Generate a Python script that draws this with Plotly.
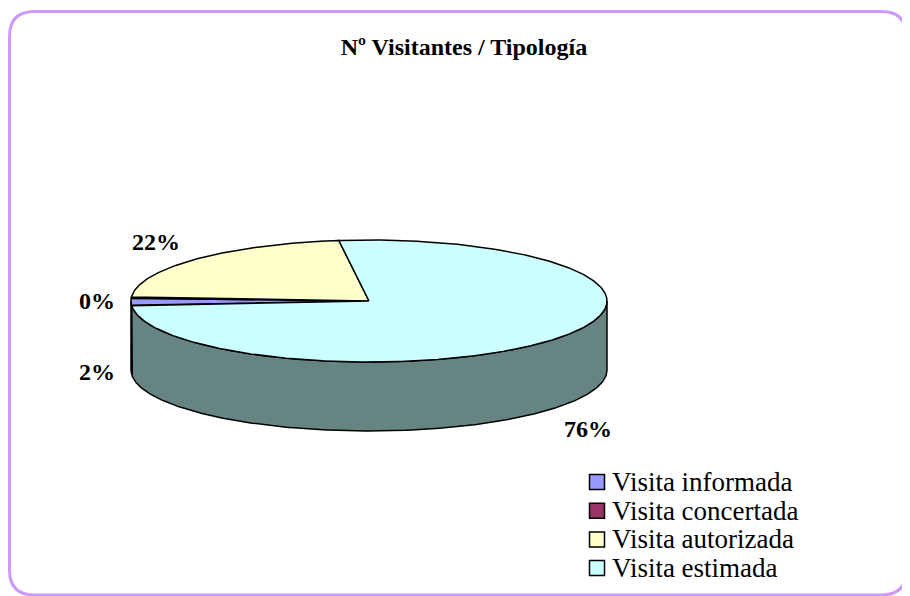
import numpy as np
import plotly.graph_objects as go

# ---------------- data ----------------
categories = ["Visita informada", "Visita concertada", "Visita autorizada", "Visita estimada"]
values = [2, 0.3, 22, 76]
top_colors = ["#9999FF", "#993366", "#FFFFCC", "#CCFFFF"]
side_colors = ["#5C5C99", "#5C1F3D", "#99997A", "#668482"]
title_text = "Nº Visitantes / Tipología"

# ---------------- layout constants (screen pixels) ----------------
W, H = 910, 596
OFF = 8  # page body margin; axis ranges are shifted so data units == screen pixels
CX, CY, RX, RY, DEPTH = 369, 301, 238, 61, 69
START = 265.5  # first slice angle, degrees clockwise from 12 o'clock
label_pos = [(97, 372), (97, 301), (156, 242), (588, 429)]
LEG_X, LEG_Y0, LEG_DY, LEG_TX = 597, 482, 28.7, 610
FONT = "Times New Roman, Liberation Serif, serif"


def ellipse(theta_deg, dy=0.0):
    t = np.radians(theta_deg)
    return CX + RX * np.sin(t), CY - RY * np.cos(t) + dy


total = float(sum(values))
bounds = []
acc = START
for v in values:
    a0 = acc
    a1 = acc + 360.0 * v / total
    bounds.append((a0, a1))
    acc = a1

fig = go.Figure()

# visible side walls (front half: 90..270 deg)
for i, (a0, a1) in enumerate(bounds):
    for k in (0.0, 360.0):
        lo, hi = max(a0, 90 + k), min(a1, 270 + k)
        if hi <= lo:
            continue
        th = np.linspace(lo, hi, max(int((hi - lo) * 2), 2))
        xt, yt = ellipse(th)
        xb, yb = ellipse(th[::-1], DEPTH)
        xs = np.concatenate([xt, xb, xt[:1]])
        ys = np.concatenate([yt, yb, yt[:1]])
        fig.add_trace(go.Scatter(
            x=xs, y=ys, mode="lines", fill="toself", fillcolor=side_colors[i],
            line=dict(color="black", width=1.5), hoverinfo="skip", showlegend=False))

# top faces
for i, (a0, a1) in enumerate(bounds):
    if a1 - a0 <= 0:
        continue
    th = np.linspace(a0, a1, max(int((a1 - a0) * 2), 2))
    xa, ya = ellipse(th)
    xs = np.concatenate([[CX], xa, [CX]])
    ys = np.concatenate([[CY], ya, [CY]])
    fig.add_trace(go.Scatter(
        x=xs, y=ys, mode="lines", fill="toself", fillcolor=top_colors[i],
        line=dict(color="black", width=1.5), hoverinfo="skip",
        name=categories[i], showlegend=False))

# legend swatches (one per category)
n = len(categories)
fig.add_trace(go.Scatter(
    x=[LEG_X] * n, y=[LEG_Y0 + LEG_DY * i for i in range(n)], mode="markers",
    marker=dict(symbol="square", size=15, color=top_colors,
                line=dict(color="black", width=1.5)),
    hoverinfo="skip", showlegend=False))

annotations = []
# legend texts
for i, cat in enumerate(categories):
    annotations.append(dict(
        x=LEG_TX, y=LEG_Y0 + LEG_DY * i, xref="x", yref="y", text=cat,
        showarrow=False, font=dict(family=FONT, size=27, color="black"),
        xanchor="left", yanchor="middle"))

# percentage labels
for i, v in enumerate(values):
    px, py = label_pos[i]
    annotations.append(dict(
        x=px, y=py, xref="x", yref="y", text=f"<b>{round(100 * v / total)}%</b>",
        showarrow=False, font=dict(family=FONT, size=24, color="black"),
        xanchor="center", yanchor="middle"))

# rounded border
L, T, R, B, r = 9.5, 11.5, 906.5, 595.0, 25
border = (f"M {L + r},{T} H {R - r} Q {R},{T} {R},{T + r} V {B - r} "
          f"Q {R},{B} {R - r},{B} H {L + r} Q {L},{B} {L},{B - r} "
          f"V {T + r} Q {L},{T} {L + r},{T} Z")

fig.update_layout(
    width=W, height=H,
    margin=dict(l=0, r=0, t=0, b=0),
    paper_bgcolor="white", plot_bgcolor="white",
    xaxis=dict(range=[OFF, W + OFF], visible=False, fixedrange=True),
    yaxis=dict(range=[H + OFF, OFF], visible=False, fixedrange=True),
    title=dict(text=f"<b>{title_text}</b>", x=(464 - OFF) / W, xanchor="center",
               y=1 - (47 - OFF) / H, yanchor="middle",
               font=dict(family=FONT, size=24, color="black")),
    annotations=annotations,
    shapes=[dict(type="path", path=border, xref="x", yref="y",
                 line=dict(color="#CC99FF", width=3), layer="above")],
    showlegend=False,
)

fig.write_html("out.html")
